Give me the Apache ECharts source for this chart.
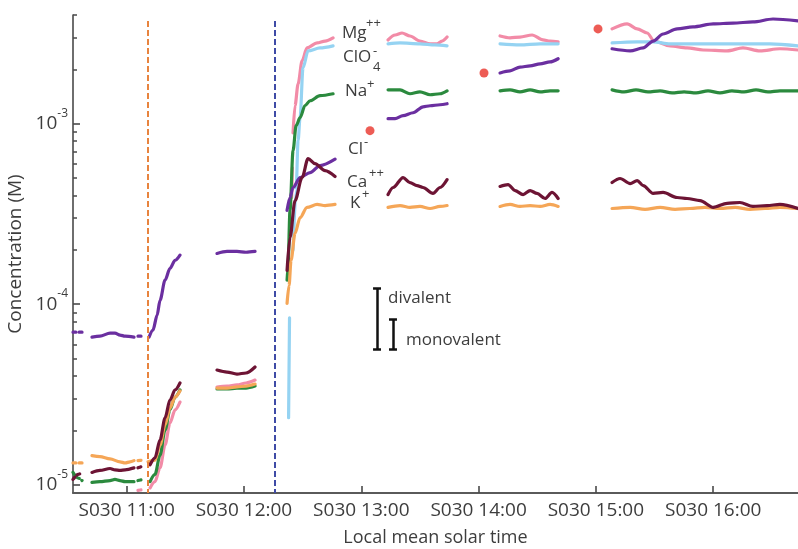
<!DOCTYPE html>
<html>
<head>
<meta charset="utf-8">
<title>Concentration vs local mean solar time</title>
<script src="https://cdn.jsdelivr.net/npm/echarts@6/dist/echarts.min.js"></script>
<style>
    html, body { margin: 0; padding: 0; background: #fff; }
    #chart { width: 798px; height: 549px; }
</style>
</head>
<body>
<div id="chart"></div>
<script>
// hours of local mean solar time (sol 30), concentrations in mol/L
const hourTicks = [11, 12, 13, 14, 15, 16];
const decadeTicks = [1e-5, 1e-4, 1e-3];
const minorTicks = [2e-5, 3e-5, 4e-5, 5e-5, 6e-5, 7e-5, 8e-5, 9e-5,
    2e-4, 3e-4, 4e-4, 5e-4, 6e-4, 7e-4, 8e-4, 9e-4, 2e-3, 3e-3, 4e-3];

// each ion: list of measured segments [time, conc]
const mgData = [
    [[11.199, 9.6e-6], [11.241, 1.04e-5], [11.284, 1.24e-5], [11.327, 1.66e-5], [11.369, 2.20e-5], [11.412, 2.60e-5], [11.454, 2.87e-5]],
    [[11.770, 3.48e-5], [11.855, 3.52e-5], [11.940, 3.57e-5], [12.017, 3.66e-5], [12.094, 3.80e-5]],
    [[12.406, 3.9e-4], [12.412, 5.7e-4]],
    [[12.418, 8.9e-4], [12.435, 1.26e-3], [12.461, 1.66e-3], [12.495, 2.23e-3], [12.537, 2.63e-3], [12.623, 2.80e-3], [12.691, 2.87e-3], [12.759, 2.99e-3]],
    [[13.228, 2.91e-3], [13.288, 3.10e-3], [13.347, 3.18e-3], [13.415, 3.06e-3], [13.500, 2.87e-3], [13.586, 2.77e-3], [13.645, 2.77e-3], [13.688, 2.87e-3], [13.731, 3.02e-3]],
    [[14.183, 3.06e-3], [14.268, 2.99e-3], [14.353, 3.02e-3], [14.456, 3.10e-3], [14.549, 2.91e-3], [14.609, 2.87e-3], [14.678, 2.84e-3]],
    [[15.138, 3.35e-3], [15.266, 3.57e-3], [15.352, 3.35e-3], [15.437, 3.18e-3], [15.497, 2.87e-3], [15.632, 2.70e-3], [15.777, 2.63e-3], [15.914, 2.56e-3], [16.118, 2.53e-3], [16.254, 2.63e-3], [16.399, 2.53e-3], [16.569, 2.60e-3], [16.723, 2.56e-3]]
];
const clo4Data = [
    [[12.380, 2.35e-5], [12.388, 8.4e-5]],
    [[12.418, 2.0e-4], [12.444, 4.26e-4], [12.461, 8.06e-4], [12.478, 1.08e-3], [12.503, 2.04e-3], [12.546, 2.53e-3], [12.648, 2.63e-3], [12.759, 2.70e-3]],
    [[13.228, 2.77e-3], [13.330, 2.80e-3], [13.500, 2.77e-3], [13.628, 2.73e-3], [13.731, 2.70e-3]],
    [[14.183, 2.77e-3], [14.353, 2.73e-3], [14.524, 2.77e-3], [14.678, 2.77e-3]],
    [[15.138, 2.80e-3], [15.352, 2.84e-3], [15.488, 2.84e-3], [15.632, 2.77e-3], [15.914, 2.77e-3], [16.203, 2.77e-3], [16.484, 2.77e-3], [16.723, 2.70e-3]]
];
const naData = [
    [[10.704, 1.03e-5], [10.772, 1.04e-5], [10.858, 1.055e-5], [10.900, 1.07e-5], [10.943, 1.055e-5], [10.986, 1.04e-5], [11.062, 1.04e-5]],
    [[11.199, 1.04e-5], [11.241, 1.14e-5], [11.284, 1.46e-5], [11.327, 2.01e-5], [11.369, 2.60e-5], [11.412, 3.06e-5], [11.454, 3.35e-5]],
    [[11.770, 3.39e-5], [11.855, 3.39e-5], [11.940, 3.43e-5], [12.017, 3.43e-5], [12.094, 3.52e-5]],
    [[12.367, 1.36e-4], [12.375, 1.60e-4], [12.392, 3.31e-4], [12.418, 7.09e-4], [12.444, 9.75e-4], [12.478, 1.08e-3], [12.520, 1.26e-3], [12.563, 1.34e-3], [12.648, 1.43e-3], [12.759, 1.465e-3]],
    [[13.228, 1.54e-3], [13.330, 1.54e-3], [13.415, 1.465e-3], [13.500, 1.50e-3], [13.586, 1.446e-3], [13.671, 1.465e-3], [13.731, 1.52e-3]],
    [[14.183, 1.52e-3], [14.268, 1.54e-3], [14.353, 1.50e-3], [14.439, 1.54e-3], [14.524, 1.50e-3], [14.609, 1.52e-3], [14.678, 1.52e-3]],
    [[15.138, 1.54e-3], [15.240, 1.50e-3], [15.342, 1.54e-3], [15.444, 1.50e-3], [15.547, 1.52e-3], [15.649, 1.48e-3], [15.752, 1.50e-3], [15.854, 1.48e-3],
     [15.956, 1.52e-3], [16.058, 1.48e-3], [16.160, 1.52e-3], [16.263, 1.50e-3], [16.365, 1.54e-3], [16.467, 1.50e-3], [16.569, 1.52e-3], [16.723, 1.52e-3]]
];
const clData = [
    [[10.704, 6.57e-5], [10.772, 6.65e-5], [10.858, 6.92e-5], [10.900, 6.92e-5], [10.943, 6.75e-5], [10.986, 6.65e-5], [11.062, 6.57e-5]],
    [[11.190, 6.57e-5], [11.224, 7.19e-5], [11.259, 8.69e-5], [11.284, 1.05e-4], [11.327, 1.36e-4], [11.369, 1.58e-4], [11.412, 1.75e-4], [11.454, 1.87e-4]],
    [[11.770, 1.91e-4], [11.855, 1.96e-4], [11.940, 1.96e-4], [12.017, 1.94e-4], [12.094, 1.96e-4]],
    [[12.367, 3.31e-4], [12.392, 3.90e-4], [12.418, 4.43e-4], [12.478, 5.03e-4], [12.563, 5.36e-4], [12.648, 5.86e-4], [12.776, 6.36e-4]],
    [[13.228, 1.066e-3], [13.288, 1.066e-3], [13.356, 1.107e-3], [13.441, 1.15e-3], [13.526, 1.24e-3], [13.586, 1.257e-3], [13.671, 1.273e-3], [13.731, 1.29e-3]],
    [[14.183, 1.91e-3], [14.268, 1.96e-3], [14.353, 2.06e-3], [14.439, 2.09e-3], [14.524, 2.145e-3], [14.609, 2.20e-3], [14.678, 2.29e-3]],
    [[15.138, 2.60e-3], [15.292, 2.53e-3], [15.403, 2.63e-3], [15.488, 2.87e-3], [15.573, 3.14e-3], [15.692, 3.35e-3], [15.828, 3.435e-3], [16.000, 3.57e-3],
     [16.169, 3.61e-3], [16.339, 3.66e-3], [16.510, 3.80e-3], [16.723, 3.71e-3]]
];
const caData = [
    [[10.704, 1.17e-5], [10.772, 1.20e-5], [10.858, 1.23e-5], [10.900, 1.21e-5], [10.943, 1.20e-5], [10.986, 1.21e-5], [11.062, 1.24e-5]],
    [[11.199, 1.29e-5], [11.241, 1.41e-5], [11.284, 1.77e-5], [11.327, 2.35e-5], [11.369, 2.95e-5], [11.412, 3.35e-5], [11.454, 3.66e-5]],
    [[11.770, 4.32e-5], [11.855, 4.21e-5], [11.940, 4.10e-5], [12.017, 4.16e-5], [12.094, 4.49e-5]],
    [[12.367, 1.54e-4], [12.392, 2.34e-4], [12.435, 3.75e-4], [12.495, 5.03e-4], [12.546, 6.41e-4], [12.605, 6.01e-4], [12.691, 5.50e-4], [12.776, 5.10e-4]],
    [[13.228, 4.05e-4], [13.271, 4.43e-4], [13.356, 5.03e-4], [13.415, 4.72e-4], [13.475, 4.54e-4], [13.526, 4.43e-4], [13.611, 4.11e-4], [13.671, 4.43e-4], [13.731, 4.90e-4]],
    [[14.183, 4.49e-4], [14.251, 4.60e-4], [14.311, 4.26e-4], [14.379, 4.05e-4], [14.439, 4.26e-4], [14.498, 4.11e-4], [14.567, 3.85e-4], [14.626, 4.16e-4], [14.678, 3.85e-4]],
    [[15.138, 4.72e-4], [15.206, 4.97e-4], [15.292, 4.66e-4], [15.352, 4.84e-4], [15.403, 4.54e-4], [15.488, 4.11e-4], [15.573, 4.16e-4], [15.692, 3.90e-4], [15.777, 3.85e-4],
     [15.888, 3.75e-4], [16.000, 3.44e-4], [16.118, 3.62e-4], [16.228, 3.66e-4], [16.339, 3.48e-4], [16.459, 3.52e-4], [16.569, 3.57e-4], [16.723, 3.39e-4]]
];
const kData = [
    [[10.704, 1.45e-5], [10.772, 1.43e-5], [10.858, 1.39e-5], [10.943, 1.34e-5], [10.986, 1.32e-5], [11.028, 1.34e-5], [11.062, 1.36e-5]],
    [[11.182, 1.34e-5], [11.241, 1.37e-5], [11.284, 1.66e-5], [11.327, 2.15e-5], [11.369, 2.66e-5], [11.412, 3.06e-5], [11.454, 3.31e-5]],
    [[11.770, 3.43e-5], [11.855, 3.43e-5], [11.940, 3.48e-5], [12.017, 3.52e-5], [12.094, 3.61e-5]],
    [[12.367, 1.01e-4], [12.384, 1.27e-4], [12.401, 1.75e-4], [12.435, 2.47e-4], [12.478, 3.02e-4], [12.537, 3.44e-4], [12.623, 3.57e-4], [12.691, 3.52e-4], [12.776, 3.57e-4]],
    [[13.228, 3.44e-4], [13.330, 3.52e-4], [13.415, 3.44e-4], [13.500, 3.48e-4], [13.586, 3.39e-4], [13.671, 3.48e-4], [13.731, 3.52e-4]],
    [[14.183, 3.48e-4], [14.268, 3.57e-4], [14.353, 3.48e-4], [14.439, 3.52e-4], [14.524, 3.48e-4], [14.609, 3.57e-4], [14.678, 3.48e-4]],
    [[15.138, 3.39e-4], [15.292, 3.44e-4], [15.419, 3.35e-4], [15.547, 3.44e-4], [15.675, 3.35e-4], [15.802, 3.39e-4], [15.930, 3.44e-4], [16.058, 3.39e-4],
     [16.186, 3.44e-4], [16.314, 3.35e-4], [16.442, 3.39e-4], [16.569, 3.44e-4], [16.723, 3.39e-4]]
];

// sparse readings before 11:00 drawn dotted
const clDots = [[[10.542, 7.0e-5], [10.619, 7.0e-5]], [[11.096, 6.65e-5], [11.139, 6.65e-5]]];
const kDots = [[[10.542, 1.32e-5], [10.619, 1.32e-5]], [[11.096, 1.36e-5], [11.139, 1.37e-5]]];
const caDots = [[[10.542, 1.07e-5], [10.585, 1.14e-5], [10.619, 1.17e-5]], [[11.096, 1.24e-5], [11.139, 1.27e-5]]];
const naDots = [[[10.542, 1.17e-5], [10.585, 1.09e-5], [10.619, 1.055e-5]], [[11.096, 1.055e-5], [11.139, 1.07e-5]]];
const mgDots = [[[11.096, 9.3e-6], [11.139, 9.4e-6]]];

// single Cl- samples (red dots)
const clSamples = [[13.074, 9.15e-4], [14.046, 1.91e-3], [15.018, 3.35e-3]];

// vertical event markers
const eventTimes = [11.179, 12.264];
const eventColors = ['#e8843e', '#3f4ba6'];

// error scale bars: [time, low, high]
const divalentBar = [13.134, 5.64e-5, 1.226e-4];
const monovalentBar = [13.270, 5.64e-5, 8.26e-5];

const FONT = "'Open Sans', 'Liberation Sans', Arial, sans-serif";
const TXT = '#3d3d3d';
const AXIS = '#4a4a4a';

function joinSegments(segs) {
    const out = [];
    segs.forEach(function (seg, i) {
        if (i > 0) out.push([seg[0][0], '-']);
        seg.forEach(function (p) { out.push(p); });
    });
    return out;
}

function lineSeries(name, segs, color, dotted) {
    return {
        name: name,
        type: 'line',
        data: joinSegments(segs),
        showSymbol: false,
        smooth: 0.3,
        smoothMonotone: 'x',
        connectNulls: false,
        silent: true,
        lineStyle: {color: color, width: 3.2, type: dotted ? [3, 3] : 'solid', cap: 'round'},
        itemStyle: {color: color}
    };
}

function bar(b) {
    const cap = 0.034;
    return [
        [{coord: [b[0], b[1]]}, {coord: [b[0], b[2]]}],
        [{coord: [b[0] - cap, b[1]]}, {coord: [b[0] + cap, b[1]]}],
        [{coord: [b[0] - cap, b[2]]}, {coord: [b[0] + cap, b[2]]}]
    ];
}

const series = [
    lineSeries('Mg++', mgData, '#f28ba7'),
    lineSeries('Mg++ sparse', mgDots, '#f28ba7', true),
    lineSeries('ClO4-', clo4Data, '#95d3f2'),
    lineSeries('Na+', naData, '#2b8a3e'),
    lineSeries('Na+ sparse', naDots, '#2b8a3e', true),
    lineSeries('Cl-', clData, '#6b2fa0'),
    lineSeries('Cl- sparse', clDots, '#6b2fa0', true),
    lineSeries('K+', kData, '#f5a657'),
    lineSeries('K+ sparse', kDots, '#f5a657', true),
    lineSeries('Ca++', caData, '#6d1434'),
    lineSeries('Ca++ sparse', caDots, '#6d1434', true),
    {
        name: 'Cl- sample',
        type: 'scatter',
        data: clSamples,
        symbolSize: 9,
        silent: true,
        itemStyle: {color: '#e8332b'},
        markLine: {
            silent: true,
            symbol: ['none', 'none'],
            label: {show: false},
            animation: false,
            data: [
                [{coord: [eventTimes[0], 3.7e-3], lineStyle: {color: eventColors[0], width: 2, type: [6, 3]}},
                 {coord: [eventTimes[0], 9e-6]}],
                [{coord: [eventTimes[1], 3.7e-3], lineStyle: {color: eventColors[1], width: 2, type: [6, 3]}},
                 {coord: [eventTimes[1], 9e-6]}]
            ].concat(bar(divalentBar), bar(monovalentBar)),
            lineStyle: {color: '#111', width: 2.5, type: 'solid'}
        }
    }
];

function txt(text, x, y, size) {
    return {
        type: 'text', x: x, y: y, silent: true,
        style: {text: text, fontSize: size || 17, fontFamily: FONT, fill: TXT, align: 'left', verticalAlign: 'middle'}
    };
}

const chart = echarts.init(document.getElementById('chart'));
const option = {
    animation: false,
    backgroundColor: '#fff',
    textStyle: {fontFamily: FONT},
    grid: {left: 73, right: 0, top: 15, bottom: 56, containLabel: false, outerBoundsMode: 'none'},
    xAxis: {
        type: 'value',
        min: 10.542,
        max: 16.723,
        axisLine: {show: true, lineStyle: {color: '#5a5a5a', width: 2}},
        axisTick: {show: true, inside: true, length: 7, customValues: hourTicks, lineStyle: {color: AXIS, width: 1.6}},
        axisLabel: {
            customValues: hourTicks,
            formatter: function (v) { return 'S030 ' + v + ':00'; },
            fontSize: 19, color: TXT, margin: 8
        },
        splitLine: {show: false},
        name: 'Local mean solar time',
        nameLocation: 'middle',
        nameGap: 36,
        nameTextStyle: {fontSize: 18, color: TXT}
    },
    yAxis: [{
        type: 'log',
        logBase: 10,
        min: 9e-6,
        max: 4e-3,
        position: 'left',
        axisLine: {show: true, lineStyle: {color: AXIS, width: 1.6}},
        axisTick: {show: true, inside: true, length: 7, customValues: decadeTicks, lineStyle: {color: AXIS, width: 1.6}},
        axisLabel: {
            customValues: decadeTicks,
            margin: 5,
            formatter: function (v) { return '{b|10}{s|' + Math.round(Math.log10(v)) + '}'; },
            rich: {
                b: {fontSize: 19, lineHeight: 19, color: TXT, fontFamily: FONT},
                s: {fontSize: 12, lineHeight: 12, color: TXT, fontFamily: FONT, padding: [0, 0, 21, 0]}
            }
        },
        splitLine: {show: false},
        name: 'Concentration (M)',
        nameLocation: 'middle',
        nameGap: 31,
        nameTextStyle: {fontSize: 19, color: TXT}
    }, {
        // minor ticks: a right-hand axis shifted onto the left edge, ticks pointing into the plot
        type: 'log',
        logBase: 10,
        min: 9e-6,
        max: 4e-3,
        position: 'right',
        offset: -725,
        axisLine: {show: false},
        axisTick: {show: true, inside: false, length: 4, customValues: minorTicks, lineStyle: {color: AXIS, width: 1.5}},
        axisLabel: {show: false},
        splitLine: {show: false}
    }],
    series: series,
    graphic: [
        txt('Mg', 342, 33), txt('++', 366, 23, 13),
        txt('ClO', 343, 57), txt('-', 373, 51, 13), txt('4', 373, 67, 13),
        txt('Na', 345, 91), txt('+', 367, 84, 13),
        txt('Cl', 348, 149), txt('-', 364, 142, 13),
        txt('Ca', 347, 182), txt('++', 369, 173, 13),
        txt('K', 350, 203), txt('+', 362, 194, 13),
        txt('divalent', 388, 298),
        txt('monovalent', 406, 340)
    ]
};
chart.setOption(option);
window.addEventListener('resize', chart.resize);
</script>
</body>
</html>
